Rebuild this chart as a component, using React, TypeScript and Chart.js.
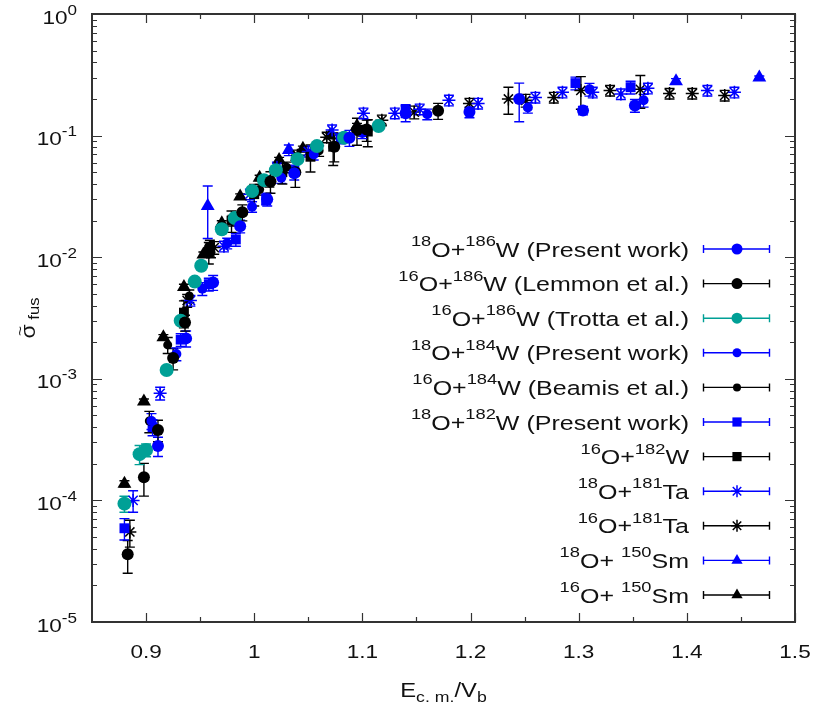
import React, { useEffect, useRef } from 'react';
import { Chart, registerables } from 'chart.js';

Chart.register(...registerables);

// ---------- axes ----------
const xMin = 0.85;
const xMax = 1.5;
const yMin = 1e-5;
const yMax = 1;
const xTickValues = [0.9, 1.0, 1.1, 1.2, 1.3, 1.4, 1.5];
const xTickLabels = ['0.9', '1', '1.1', '1.2', '1.3', '1.4', '1.5'];
const xMinorTicks = [0.95, 1.05, 1.15, 1.25, 1.35, 1.45];
const yTickExponents = [-5, -4, -3, -2, -1, 0];
const yTickLabels = ['-5', '-4', '-3', '-2', '-1', '0'];
const yMinorMultipliers = [2, 3, 4, 5, 6, 7, 8, 9];

// ---------- data ----------
// 18O+186W (Present work)
const o18w186X = [0.911, 0.937, 0.962, 0.987, 1.012, 1.037, 1.088, 1.14, 1.199, 1.245, 1.304, 1.352];
const o18w186Y = [2.8e-4, 2.15e-3, 6.2e-3, 0.018, 0.03, 0.049, 0.096, 0.153, 0.156, 0.2, 0.161, 0.177];
const o18w186E = [0.18, 0.15, 0.14, 0.12, 0.12, 0.12, 0.15, 0.15, 0.1, 0.35, 0.08, 0.12];
// 16O+186W (Lemmon et al.)
const o16w186LX = [0.883, 0.898, 0.911, 0.925, 0.936, 0.959, 0.989, 1.015, 1.038, 1.074, 1.095, 1.104, 1.17];
const o16w186LY = [3.6e-5, 1.55e-4, 3.8e-4, 1.48e-3, 2.9e-3, 0.012, 0.0234, 0.042, 0.05, 0.081, 0.111, 0.112, 0.16];
const o16w186LE = [0.3, 0.3, 0.2, 0.2, 0.15, 0.15, 0.15, 0.2, 0.25, 0.25, 0.25, 0.2, 0.15];
// 16O+186W (Trotta et al.)
const o16w186TX = [0.88, 0.894, 0.9, 0.919, 0.932, 0.945, 0.951, 0.97, 0.982, 0.998, 1.009, 1.02, 1.04, 1.058, 1.083, 1.115];
const o16w186TY = [9.4e-5, 2.4e-4, 2.6e-4, 1.18e-3, 3.0e-3, 6.3e-3, 8.5e-3, 0.017, 0.021, 0.035, 0.043, 0.052, 0.064, 0.082, 0.096, 0.12];
const o16w186TE = [0.15, 0.18, 0.12, 0.06, 0.05, 0.05, 0.04, 0.04, 0.04, 0.04, 0.04, 0.04, 0.04, 0.04, 0.04, 0.04];
// 18O+184W (Present work)
const o18w184X = [0.905, 0.928, 0.952, 0.975, 0.998, 1.025, 1.055, 1.1, 1.16, 1.253, 1.31, 1.36];
const o18w184Y = [4.5e-4, 1.6e-3, 5.5e-3, 0.013, 0.026, 0.045, 0.07, 0.105, 0.15, 0.17, 0.24, 0.195];
const o18w184E = [0.15, 0.12, 0.12, 0.1, 0.1, 0.1, 0.1, 0.1, 0.1, 0.1, 0.12, 0.12];
// 16O+184W (Beamis et al.)
const o16w184X = [0.903, 0.92, 0.94, 0.96, 0.98, 1.005, 1.03, 1.06, 1.1];
const o16w184Y = [4.5e-4, 1.9e-3, 4.8e-3, 0.011, 0.02, 0.036, 0.055, 0.075, 0.11];
const o16w184E = [0.2, 0.15, 0.12, 0.1, 0.1, 0.1, 0.1, 0.1, 0.1];
// 18O+182W (Present work)
const o18w182X = [0.88, 0.906, 0.932, 0.958, 0.983, 1.011, 1.037, 1.08, 1.14, 1.297, 1.348];
const o18w182Y = [5.9e-5, 4.0e-4, 2.1e-3, 6.0e-3, 0.014, 0.03, 0.052, 0.095, 0.16, 0.27, 0.25];
const o18w182E = [0.2, 0.15, 0.12, 0.12, 0.12, 0.1, 0.1, 0.1, 0.12, 0.12, 0.12];
// 16O+182W
const o16w182X = [0.935, 0.958, 0.979, 1.0, 1.026, 1.052, 1.073, 1.105];
const o16w182Y = [3.5e-3, 0.011, 0.02, 0.033, 0.05, 0.067, 0.081, 0.108];
const o16w182E = [0.25, 0.2, 0.2, 0.2, 0.2, 0.25, 0.3, 0.25];
// 18O+181Ta
const o18ta181X = [0.888, 0.913, 0.941, 0.972, 0.996, 1.021, 1.05, 1.072, 1.101, 1.13, 1.153, 1.18, 1.207, 1.26, 1.285, 1.313, 1.339, 1.364, 1.419, 1.444];
const o18ta181Y = [1.0e-4, 7.6e-4, 4.4e-3, 0.0123, 0.033, 0.055, 0.074, 0.111, 0.153, 0.153, 0.165, 0.195, 0.184, 0.206, 0.227, 0.227, 0.22, 0.245, 0.235, 0.227];
const o18ta181E = [0.2, 0.12, 0.1, 0.1, 0.1, 0.1, 0.1, 0.1, 0.1, 0.1, 0.1, 0.1, 0.1, 0.1, 0.1, 0.1, 0.1, 0.1, 0.1, 0.1];
// 16O+181Ta
const o16ta181X = [0.885, 0.938, 0.963, 1.014, 1.04, 1.067, 1.118, 1.148, 1.199, 1.235, 1.251, 1.277, 1.302, 1.329, 1.357, 1.384, 1.405, 1.435];
const o16ta181Y = [5.5e-5, 4.4e-3, 0.012, 0.042, 0.069, 0.097, 0.134, 0.156, 0.184, 0.2, 0.195, 0.206, 0.235, 0.235, 0.24, 0.222, 0.222, 0.214];
const o16ta181E = [0.25, 0.12, 0.12, 0.1, 0.1, 0.1, 0.1, 0.12, 0.1, 0.25, 0.12, 0.1, 0.3, 0.1, 0.3, 0.1, 0.1, 0.1];
// 18O+150Sm
const o18sm150X = [0.957, 1.032, 1.39, 1.467];
const o18sm150Y = [0.0264, 0.076, 0.28, 0.3];
const o18sm150E = [0.46, 0.1, 0.05, 0.03];
// 16O+150Sm
const o16sm150X = [0.88, 0.898, 0.916, 0.935, 0.953, 0.97, 0.987, 1.005, 1.023, 1.045, 1.07, 1.095];
const o16sm150Y = [1.37e-4, 6.5e-4, 2.2e-3, 5.7e-3, 0.0105, 0.019, 0.0316, 0.045, 0.063, 0.078, 0.1, 0.12];
const o16sm150E = [0.06, 0.05, 0.05, 0.05, 0.05, 0.05, 0.05, 0.05, 0.05, 0.05, 0.05, 0.05];

const BLUE = '#0000ff';
const BLACK = '#000000';
const TEAL = '#00a096';
const FONT = "'Liberation Sans', Arial, Helvetica, sans-serif";
const SX = 1.22;

type Part = [string, string];
interface Series {
  parts: Part[];
  xs: number[];
  ys: number[];
  es: number[];
  color: string;
  style: string;
  r: number;
  lr: number;
}

const seriesList: Series[] = [
  { parts: [['s', '18'], ['n', 'O+'], ['s', '186'], ['n', 'W (Present work)']], xs: o18w186X, ys: o18w186Y, es: o18w186E, color: BLUE, style: 'circle', r: 6, lr: 5.5 },
  { parts: [['s', '16'], ['n', 'O+'], ['s', '186'], ['n', 'W (Lemmon et al.)']], xs: o16w186LX, ys: o16w186LY, es: o16w186LE, color: BLACK, style: 'circle', r: 6, lr: 5.5 },
  { parts: [['s', '16'], ['n', 'O+'], ['s', '186'], ['n', 'W (Trotta et al.)']], xs: o16w186TX, ys: o16w186TY, es: o16w186TE, color: TEAL, style: 'circle', r: 7, lr: 5.5 },
  { parts: [['s', '18'], ['n', 'O+'], ['s', '184'], ['n', 'W (Present work)']], xs: o18w184X, ys: o18w184Y, es: o18w184E, color: BLUE, style: 'circle', r: 5, lr: 4.5 },
  { parts: [['s', '16'], ['n', 'O+'], ['s', '184'], ['n', 'W (Beamis et al.)']], xs: o16w184X, ys: o16w184Y, es: o16w184E, color: BLACK, style: 'circle', r: 4.5, lr: 4 },
  { parts: [['s', '18'], ['n', 'O+'], ['s', '182'], ['n', 'W (Present work)']], xs: o18w182X, ys: o18w182Y, es: o18w182E, color: BLUE, style: 'rect', r: 7, lr: 4.6 },
  { parts: [['s', '16'], ['n', 'O+'], ['s', '182'], ['n', 'W']], xs: o16w182X, ys: o16w182Y, es: o16w182E, color: BLACK, style: 'rect', r: 7, lr: 4.6 },
  { parts: [['s', '18'], ['n', 'O+'], ['s', '181'], ['n', 'Ta']], xs: o18ta181X, ys: o18ta181Y, es: o18ta181E, color: BLUE, style: 'star', r: 6.5, lr: 6 },
  { parts: [['s', '16'], ['n', 'O+'], ['s', '181'], ['n', 'Ta']], xs: o16ta181X, ys: o16ta181Y, es: o16ta181E, color: BLACK, style: 'star', r: 6.5, lr: 6 },
  { parts: [['s', '18'], ['n', 'O+ '], ['s', '150'], ['n', 'Sm']], xs: o18sm150X, ys: o18sm150Y, es: o18sm150E, color: BLUE, style: 'triangle', r: 8, lr: 6.5 },
  { parts: [['s', '16'], ['n', 'O+ '], ['s', '150'], ['n', 'Sm']], xs: o16sm150X, ys: o16sm150Y, es: o16sm150E, color: BLACK, style: 'triangle', r: 8, lr: 6.5 },
];

function drawRich(
  ctx: CanvasRenderingContext2D,
  parts: Part[],
  x: number,
  baseline: number,
  align: 'left' | 'right' | 'center',
  mainSize: number,
  smallSize: number,
  raise: number,
  drop: number,
  sx: number,
) {
  const fontOf = (k: string) => `${k === 'n' ? mainSize : smallSize}px ${FONT}`;
  const widths = parts.map(([k, t]) => {
    ctx.font = fontOf(k);
    return ctx.measureText(t).width * sx;
  });
  const total = widths.reduce((a, b) => a + b, 0);
  let cx = align === 'left' ? x : align === 'right' ? x - total : x - total / 2;
  ctx.textAlign = 'left';
  ctx.textBaseline = 'alphabetic';
  parts.forEach(([k, t], i) => {
    ctx.font = fontOf(k);
    const dy = k === 's' ? -raise : k === 'b' ? drop : 0;
    ctx.save();
    ctx.translate(cx, baseline + dy);
    ctx.scale(sx, 1);
    ctx.fillText(t, 0, 0);
    ctx.restore();
    cx += widths[i];
  });
}

function drawMarker(ctx: CanvasRenderingContext2D, style: string, x: number, y: number, r: number, color: string) {
  ctx.save();
  ctx.fillStyle = color;
  ctx.strokeStyle = color;
  ctx.lineWidth = 1.5;
  ctx.beginPath();
  if (style === 'circle') {
    ctx.arc(x, y, r, 0, Math.PI * 2);
    ctx.fill();
  } else if (style === 'rect') {
    ctx.rect(x - r, y - r, 2 * r, 2 * r);
    ctx.fill();
  } else if (style === 'triangle') {
    ctx.moveTo(x, y - r);
    ctx.lineTo(x + r * 0.866, y + r * 0.5);
    ctx.lineTo(x - r * 0.866, y + r * 0.5);
    ctx.closePath();
    ctx.fill();
  } else if (style === 'star') {
    ctx.moveTo(x - r, y); ctx.lineTo(x + r, y);
    ctx.moveTo(x, y - r); ctx.lineTo(x, y + r);
    const d = r * 0.707;
    ctx.moveTo(x - d, y - d); ctx.lineTo(x + d, y + d);
    ctx.moveTo(x - d, y + d); ctx.lineTo(x + d, y - d);
    ctx.stroke();
  }
  ctx.restore();
}

const errorBarPlugin = {
  id: 'errorBars',
  beforeDatasetsDraw(chart: any) {
    const { ctx, chartArea, scales } = chart;
    const xs = scales.x;
    const ys = scales.y;
    ctx.save();
    ctx.beginPath();
    ctx.rect(chartArea.left, chartArea.top, chartArea.right - chartArea.left, chartArea.bottom - chartArea.top);
    ctx.clip();
    ctx.lineWidth = 1.4;
    seriesList.forEach((s) => {
      ctx.strokeStyle = s.color;
      s.xs.forEach((xv, i) => {
        const px = xs.getPixelForValue(xv);
        const lo = ys.getPixelForValue(s.ys[i] * (1 - s.es[i]));
        const hi = ys.getPixelForValue(s.ys[i] * (1 + s.es[i]));
        ctx.beginPath();
        ctx.moveTo(px, lo); ctx.lineTo(px, hi);
        ctx.moveTo(px - 5, lo); ctx.lineTo(px + 5, lo);
        ctx.moveTo(px - 5, hi); ctx.lineTo(px + 5, hi);
        ctx.stroke();
      });
    });
    ctx.restore();
  },
};

const framePlugin = {
  id: 'frameAndText',
  afterDraw(chart: any) {
    const { ctx, chartArea, scales } = chart;
    const xs = scales.x;
    const ys = scales.y;
    const { left, right, top, bottom } = chartArea;
    ctx.save();
    ctx.strokeStyle = '#333333';
    ctx.lineWidth = 1.2;
    ctx.beginPath();
    xTickValues.forEach((v) => {
      const px = Math.round(xs.getPixelForValue(v)) + 0.5;
      ctx.moveTo(px, bottom); ctx.lineTo(px, bottom - 9);
      ctx.moveTo(px, top); ctx.lineTo(px, top + 9);
    });
    xMinorTicks.forEach((v) => {
      const px = Math.round(xs.getPixelForValue(v)) + 0.5;
      ctx.moveTo(px, bottom); ctx.lineTo(px, bottom - 5);
      ctx.moveTo(px, top); ctx.lineTo(px, top + 5);
    });
    yTickExponents.forEach((e) => {
      const py = Math.round(ys.getPixelForValue(Math.pow(10, e))) + 0.5;
      ctx.moveTo(left, py); ctx.lineTo(left + 10, py);
      ctx.moveTo(right, py); ctx.lineTo(right - 10, py);
      if (e < 0) {
        yMinorMultipliers.forEach((m) => {
          const pm = Math.round(ys.getPixelForValue(m * Math.pow(10, e))) + 0.5;
          ctx.moveTo(left, pm); ctx.lineTo(left + 5, pm);
          ctx.moveTo(right, pm); ctx.lineTo(right - 5, pm);
        });
      }
    });
    ctx.stroke();
    ctx.lineWidth = 2;
    ctx.strokeRect(left, top, right - left, bottom - top);

    // tick labels
    ctx.fillStyle = '#111111';
    xTickValues.forEach((v, i) => {
      drawRich(ctx, [['n', xTickLabels[i]]], xs.getPixelForValue(v), bottom + 36, 'center', 18.5, 14, 0, 0, SX);
    });
    yTickExponents.forEach((e, i) => {
      const py = ys.getPixelForValue(Math.pow(10, e));
      drawRich(ctx, [['n', '10'], ['s', yTickLabels[i]]], left - 15, py + 9.5, 'right', 18.5, 14, 9, 0, SX);
    });

    // axis titles
    drawRich(ctx, [['n', 'E'], ['b', 'c. m.'], ['n', '/V'], ['b', 'b']], (left + right) / 2, 697, 'center', 19.5, 14.5, 0, 5, SX);

    // y title: sigma with tilde, subscript "fus", rotated
    ctx.save();
    ctx.translate(35, (top + bottom) / 2);
    ctx.rotate(-Math.PI / 2);
    const ysx = 1.15;
    ctx.textAlign = 'left';
    ctx.textBaseline = 'alphabetic';
    ctx.font = `20px ${FONT}`;
    const wSig = ctx.measureText('σ').width * ysx;
    ctx.font = `14.5px ${FONT}`;
    const wFus = ctx.measureText(' fus').width * ysx;
    const start = -(wSig + wFus) / 2;
    ctx.font = `20px ${FONT}`;
    ctx.save(); ctx.translate(start, 0); ctx.scale(ysx, 1); ctx.fillText('σ', 0, 0); ctx.restore();
    ctx.font = `15px ${FONT}`;
    const wT = ctx.measureText('~').width * ysx;
    ctx.save(); ctx.translate(start + wSig / 2 - wT / 2 + 0.5, -10); ctx.scale(ysx, 1); ctx.fillText('~', 0, 0); ctx.restore();
    ctx.font = `14.5px ${FONT}`;
    ctx.save(); ctx.translate(start + wSig, 4); ctx.scale(ysx, 1); ctx.fillText(' fus', 0, 0); ctx.restore();
    ctx.restore();

    // legend
    seriesList.forEach((s, i) => {
      const cy = 249 + i * 34.6;
      ctx.fillStyle = '#111111';
      drawRich(ctx, s.parts, 689, cy + 7.5, 'right', 20.5, 15, 10.5, 0, SX);
      ctx.strokeStyle = s.color;
      ctx.lineWidth = 1.4;
      ctx.beginPath();
      ctx.moveTo(703, cy); ctx.lineTo(770, cy);
      ctx.moveTo(703.5, cy - 4); ctx.lineTo(703.5, cy + 4);
      ctx.moveTo(769.5, cy - 4); ctx.lineTo(769.5, cy + 4);
      ctx.stroke();
      drawMarker(ctx, s.style, 737, cy, s.lr, s.color);
    });
    ctx.restore();
  },
};

export default function App() {
  const ref = useRef<HTMLCanvasElement | null>(null);
  useEffect(() => {
    if (!ref.current) return;
    const datasets = seriesList.map((s) => ({
      label: s.parts.map((p) => p[1]).join(''),
      data: s.xs.map((x, i) => ({ x, y: s.ys[i] })),
      backgroundColor: s.color,
      borderColor: s.color,
      pointStyle: s.style,
      pointRadius: s.r,
      pointBorderWidth: s.style === 'star' ? 1.5 : 0,
      showLine: false,
    }));
    const chart = new Chart(ref.current, {
      type: 'scatter',
      data: { datasets: datasets as any },
      options: {
        responsive: false,
        animation: false,
        devicePixelRatio: 1,
        layout: { padding: { left: 92, right: 27, top: 14, bottom: 93 } },
        plugins: { legend: { display: false }, tooltip: { enabled: false } },
        events: [],
        scales: {
          x: { type: 'linear', min: xMin, max: xMax, display: false },
          y: { type: 'logarithmic', min: yMin, max: yMax, display: false },
        },
      },
      plugins: [errorBarPlugin, framePlugin],
    });
    return () => chart.destroy();
  }, []);
  return (
    <div style={{ position: 'absolute', left: 0, top: 0, width: 822, height: 715, background: '#ffffff' }}>
      <canvas ref={ref} width={822} height={715} />
    </div>
  );
}
